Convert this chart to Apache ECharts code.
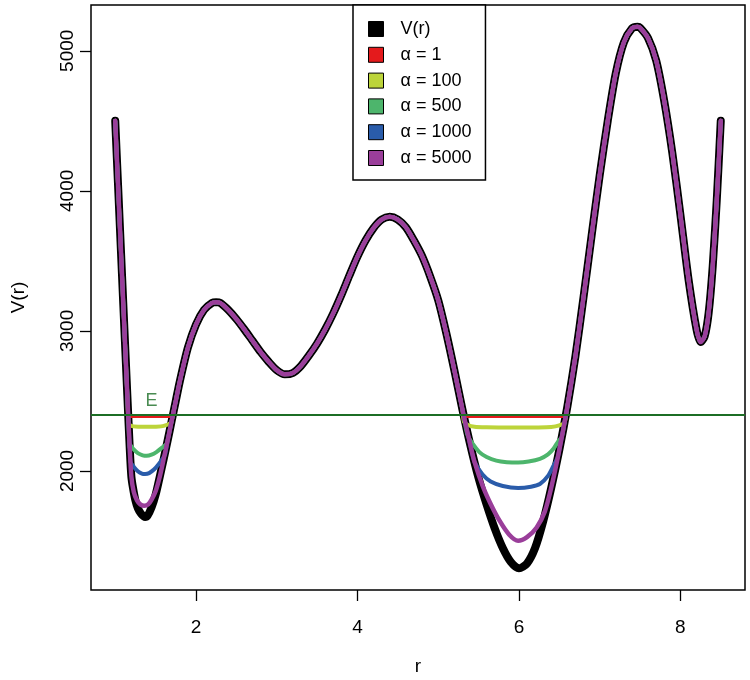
<!DOCTYPE html>
<html><head><meta charset="utf-8">
<script src="https://cdn.jsdelivr.net/npm/echarts@6/dist/echarts.min.js"></script>
<style>html,body{margin:0;padding:0;background:#fff}#c{width:750px;height:680px}</style>
</head><body><div id="c"></div>
<script>
// ---- data ----
const rV = [1.00,1.05,1.10,1.15,1.18,1.20,1.22,1.25,1.28,1.32,1.37,1.40,1.45,1.50,1.55,1.60,1.65,1.70,1.75,1.80,1.90,
  2.00,2.10,2.20,2.25,2.30,2.40,2.50,2.60,2.70,2.80,2.90,3.00,3.10,3.20,3.30,3.40,3.50,3.60,3.70,3.80,3.90,
  4.00,4.10,4.20,4.30,4.40,4.50,4.60,4.70,4.80,4.90,5.00,5.10,5.20,5.30,5.40,5.50,5.60,5.70,5.80,5.90,
  6.00,6.10,6.20,6.30,6.40,6.50,6.60,6.70,6.80,6.90,7.00,7.10,7.20,7.30,7.40,7.47,7.50,7.60,7.70,7.80,7.90,
  8.00,8.10,8.20,8.25,8.30,8.35,8.40,8.45,8.50];
const vV = [4500,3845,3190,2540,2160,1960,1880,1790,1735,1695,1672,1680,1740,1830,1955,2085,2220,2360,2500,2640,2880,
  3045,3150,3200,3205,3200,3150,3085,3010,2930,2850,2780,2720,2690,2700,2750,2825,2910,3010,3125,3255,3395,
  3530,3645,3735,3795,3815,3795,3740,3645,3535,3390,3220,2985,2720,2440,2180,1950,1760,1590,1450,1350,
  1305,1340,1450,1640,1880,2150,2460,2820,3240,3680,4110,4500,4840,5060,5160,5172,5165,5090,4930,4640,4270,
  3830,3370,3010,2920,2960,3130,3460,3930,4500];
const E = 2400;
const eLabelR = 1.45;

// alpha curves inside the two wells ([r, value])
const a1Left  = [[1.161,2386],[1.40,2386],[1.714,2386]];
const a1Right = [[5.31,2386],[6.00,2386],[6.586,2386]];
const a100Left  = [[1.165,2345],[1.20,2322],[1.30,2316],[1.40,2315],[1.50,2316],[1.60,2322],[1.695,2345]];
const a100Right = [[5.32,2350],[5.37,2328],[5.45,2316],[5.60,2312],[5.80,2311],[6.00,2310],[6.20,2311],[6.40,2314],[6.50,2325],[6.565,2345]];
const a500Left  = [[1.181,2190],[1.22,2160],[1.28,2128],[1.34,2112],[1.39,2108],[1.45,2116],[1.51,2135],[1.57,2162],[1.637,2195]];
const a500Right = [[5.36,2262],[5.42,2200],[5.51,2135],[5.60,2100],[5.72,2074],[5.85,2063],[5.99,2060],[6.12,2067],[6.26,2086],[6.36,2118],[6.43,2160],[6.49,2215],[6.53,2240]];
const a1000Left  = [[1.19,2061],[1.23,2030],[1.28,1998],[1.33,1982],[1.37,1979],[1.42,1985],[1.48,2010],[1.54,2050],[1.60,2100],[1.62,2121]];
const a1000Right = [[5.45,2065],[5.55,1975],[5.65,1925],[5.80,1893],[5.99,1879],[6.15,1888],[6.26,1907],[6.36,1965],[6.43,2040],[6.48,2096]];
const a5000Left  = [[1.20,1960],[1.23,1850],[1.27,1790],[1.31,1762],[1.36,1752],[1.41,1762],[1.45,1795],[1.50,1855],[1.55,1955]];
const a5000Right = [[5.45,2065],[5.55,1895],[5.65,1765],[5.76,1645],[5.88,1545],[5.99,1502],[6.10,1528],[6.22,1597],[6.32,1710],[6.40,1880]];

const legendNames = ['V(r)','α = 1','α = 100','α = 500','α = 1000','α = 5000'];
const colors = ['#000000','#e41a1c','#bcd43a','#4db56c','#2a5caa','#9a3e9a'];
const xTicks = [2,4,6,8];
const yTicks = [2000,3000,4000,5000];

// ---- build ----
const vPts = rV.map((r,i)=>[r,vV[i]]);
function withWells(left,right){
  const lo1=left[0][0], hi1=left[left.length-1][0], lo2=right[0][0], hi2=right[right.length-1][0];
  const base = vPts.filter(p=>!(p[0]>=lo1&&p[0]<=hi1)&&!(p[0]>=lo2&&p[0]<=hi2));
  return base.concat(left,right).sort((a,b)=>a[0]-b[0]);
}
const xmin0=Math.min(...rV), xmax0=Math.max(...rV);
const ymin0=Math.min(...vV), ymax0=Math.max(...vV);
const xPad=(xmax0-xmin0)*0.04, yPad=(ymax0-ymin0)*0.04;

const font='"Liberation Sans", Arial, Helvetica, sans-serif';
const eColor='#1c6e25';
function lineSeries(name,data,color,width,smooth){
  return {name,type:'line',data,showSymbol:false,symbol:'none',smooth,
    color, itemStyle:{color}, lineStyle:{color,width,cap:'round',join:'round'},
    emphasis:{disabled:true}, silent:true, animation:false};
}
const series = [
  lineSeries(legendNames[0], vPts, colors[0], 8, 0.25),
  lineSeries(legendNames[1], withWells(a1Left,a1Right), colors[1], 2.2, false),
  lineSeries(legendNames[2], withWells(a100Left,a100Right), colors[2], 4, 0.25),
  lineSeries(legendNames[3], withWells(a500Left,a500Right), colors[3], 4, 0.25),
  lineSeries(legendNames[4], withWells(a1000Left,a1000Right), colors[4], 4, 0.25),
  lineSeries(legendNames[5], withWells(a5000Left,a5000Right), colors[5], 4.5, 0.25),
  {name:'E',type:'scatter',data:[[eLabelR,E]],symbolSize:1,itemStyle:{color:'rgba(0,0,0,0)'},
    label:{show:true,formatter:'E',position:'top',distance:4,color:eColor,fontSize:18,fontFamily:font},
    markLine:{silent:true,symbol:['none','none'],label:{show:false},
      lineStyle:{color:eColor,width:1.8,type:'solid'},data:[{yAxis:E}],animation:false},
    z:5, animation:false}
];

const chart = echarts.init(document.getElementById('c'),null,{renderer:'canvas'});
chart.setOption({
  animation:false,
  backgroundColor:'#fff',
  grid:{left:91,right:5,top:5,bottom:90,show:true,borderColor:'#000',borderWidth:1.5,backgroundColor:'transparent',
    containLabel:false,outerBoundsMode:'none'},
  xAxis:{type:'value',min:xmin0-xPad,max:xmax0+xPad,
    name:'r',nameLocation:'middle',nameGap:67,nameTextStyle:{fontSize:19,color:'#000',fontFamily:font},
    axisLine:{show:false},splitLine:{show:false},
    axisTick:{show:true,inside:false,length:11,customValues:xTicks,lineStyle:{color:'#000',width:1.3}},
    axisLabel:{customValues:xTicks,fontSize:19,color:'#000',fontFamily:font,margin:28,formatter:v=>String(v)}},
  yAxis:{type:'value',min:ymin0-yPad,max:ymax0+yPad,
    name:'V(r)',nameLocation:'middle',nameGap:63,nameRotate:90,nameTextStyle:{fontSize:19,color:'#000',fontFamily:font},
    axisLine:{show:false},splitLine:{show:false},
    axisTick:{show:true,inside:false,length:11,customValues:yTicks,lineStyle:{color:'#000',width:1.3}},
    axisLabel:{customValues:yTicks,rotate:90,fontSize:19,color:'#000',fontFamily:font,margin:14,formatter:v=>String(v)}},
  legend:{data:legendNames,orient:'vertical',left:353,top:5,padding:[15,14,13,15],
    itemWidth:15,itemHeight:15,itemGap:7.8,icon:'rect',
    itemStyle:{borderColor:'#000',borderWidth:1},
    textStyle:{fontSize:18,color:'#000',fontFamily:font,padding:[0,0,0,12],lineHeight:15},
    backgroundColor:'#fff',borderColor:'#000',borderWidth:1.5,borderRadius:0,selectedMode:false,z:10},
  series
});
</script></body></html>
